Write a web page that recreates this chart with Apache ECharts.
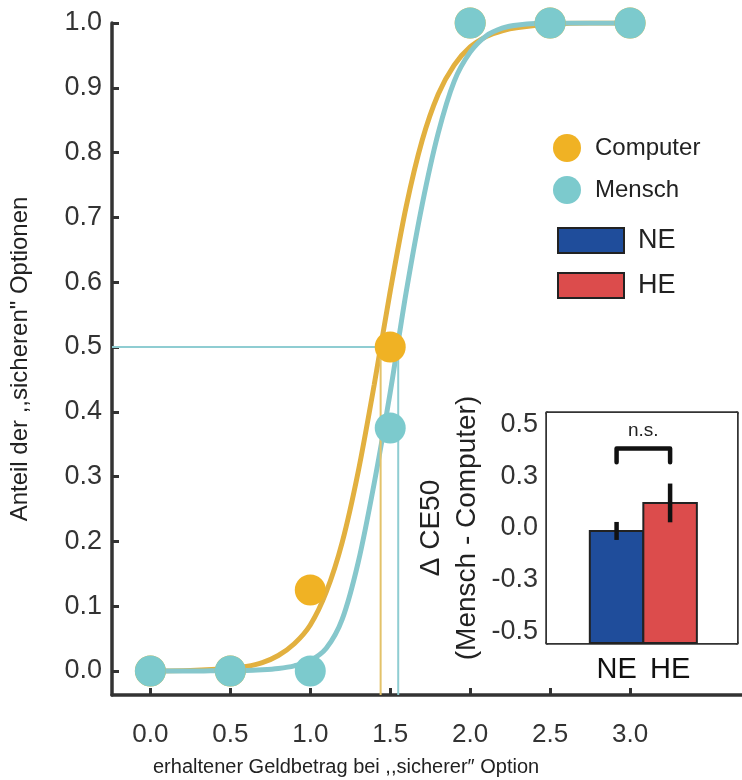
<!DOCTYPE html>
<html>
<head>
<meta charset="utf-8">
<script src="https://cdn.jsdelivr.net/npm/echarts@6/dist/echarts.min.js"></script>
<style>html,body{margin:0;padding:0;background:#fff}#c{width:742px;height:780px}</style>
</head>
<body>
<div id="c"></div>
<script>
// ---- data ----
const xTicks = [0, 0.5, 1, 1.5, 2, 2.5, 3];
const yTicks = [0, 0.1, 0.2, 0.3, 0.4, 0.5, 0.6, 0.7, 0.8, 0.9, 1.0];
const stimulus = [0, 0.5, 1, 1.5, 2, 2.5, 3];
const computerObs = [0, 0, 0.125, 0.5, 1, 1, 1];
const menschObs = [0, 0, 0, 0.375, 1, 1, 1];
const curveX = [0, 0.25, 0.5, 0.6, 0.7, 0.8, 0.9, 1.0, 1.1, 1.2, 1.3, 1.4, 1.5, 1.6, 1.7, 1.8, 1.9, 2.0, 2.1, 2.2, 2.3, 2.5, 2.75, 3.0];
const computerFit = [0, 0.001, 0.004, 0.007, 0.013, 0.024, 0.042, 0.071, 0.122, 0.199, 0.308, 0.442, 0.586, 0.717, 0.819, 0.89, 0.935, 0.963, 0.979, 0.988, 0.993, 0.998, 1, 1];
const menschFit = [0, 0, 0.001, 0.001, 0.002, 0.004, 0.008, 0.016, 0.035, 0.08, 0.168, 0.29, 0.43, 0.585, 0.72, 0.83, 0.91, 0.955, 0.98, 0.992, 0.997, 1, 1, 1];
const ce50Computer = 1.44;
const ce50Mensch = 1.55;
const groups = ['NE', 'HE'];
const deltaCE50 = [-0.017, 0.145];
const deltaErr = [0.052, 0.112];
const insetTickValues = [-0.6, -0.3, 0, 0.3, 0.6];
const insetTickLabels = ['-0.5', '-0.3', '0.0', '0.3', '0.5'];

// ---- styling constants ----
const FONT = 'Liberation Sans, Arial, sans-serif';
const ORANGE = '#f0b224';
const ORANGE_LINE = '#e2b03f';
const CYAN = '#7ccacd';
const CYAN_LINE = '#86c7cc';
const NE_COL = '#1f4d9b';
const HE_COL = '#dc4c4c';
const AX = '#333';
const X_MIN = -0.24, X_MAX = 3.7, Y_MIN = -0.037, Y_MAX = 1.0;
const IY_MIN = -0.665, IY_MAX = 0.665, IX_MIN = -1.3, IX_MAX = 2.25;

const zip = (a, b) => a.map((v, i) => [v, b[i]]);

const chart = echarts.init(document.getElementById('c'), null, {renderer: 'canvas'});

const option = {
  backgroundColor: '#fff',
  animation: false,
  textStyle: {fontFamily: FONT},
  grid: [
    {left: 111, top: 23, right: 0, bottom: 85, containLabel: false},
    {left: 547, top: 413, width: 190, height: 230, show: true, backgroundColor: '#fff', borderWidth: 0, z: 5}
  ],
  legend: [
    {
      orient: 'vertical', left: 553, top: 134, padding: 0, itemWidth: 28, itemHeight: 28, itemGap: 14,
      selectedMode: false,
      textStyle: {fontSize: 24, color: '#222', fontFamily: FONT, padding: [0, 0, 0, 9]},
      data: [
        {name: 'Computer', icon: 'circle', itemStyle: {color: ORANGE}},
        {name: 'Mensch', icon: 'circle', itemStyle: {color: CYAN}}
      ]
    },
    {
      orient: 'vertical', left: 557, top: 227, padding: 0, itemWidth: 66, itemHeight: 25, itemGap: 18,
      selectedMode: false,
      textStyle: {fontSize: 27, color: '#222', fontFamily: FONT, padding: [0, 0, 0, 9]},
      data: [
        {name: 'NE', icon: 'rect', itemStyle: {color: NE_COL, borderColor: '#222', borderWidth: 2}},
        {name: 'HE', icon: 'rect', itemStyle: {color: HE_COL, borderColor: '#222', borderWidth: 2}}
      ]
    }
  ],
  xAxis: [
    {
      gridIndex: 0, type: 'value', min: X_MIN, max: X_MAX,
      axisLine: {show: true, onZero: false, lineStyle: {color: AX, width: 3.5}},
      axisTick: {show: true, inside: true, length: 7, lineStyle: {color: AX, width: 3}, customValues: xTicks},
      axisLabel: {show: true, customValues: xTicks, margin: 27, fontSize: 26, color: AX, fontFamily: FONT,
        formatter: v => v.toFixed(1)},
      splitLine: {show: false}
    },
    {
      gridIndex: 1, type: 'value', min: IX_MIN, max: IX_MAX,
      axisLine: {show: true, onZero: false, lineStyle: {color: AX, width: 3.5}},
      axisTick: {show: false, customValues: [0, 1]},
      axisLabel: {show: true, customValues: [0, 1], margin: 12, fontSize: 29, color: '#111', fontFamily: FONT,
        formatter: v => groups[Math.round(v)] || ''},
      splitLine: {show: false}
    },
    {
      gridIndex: 1, type: 'value', position: 'top', min: IX_MIN, max: IX_MAX,
      axisLine: {show: true, onZero: false, lineStyle: {color: AX, width: 3.5}},
      axisTick: {show: true, inside: true, length: 6, lineStyle: {color: AX, width: 3}, customValues: [0, 1]},
      axisLabel: {show: false},
      splitLine: {show: false}
    }
  ],
  yAxis: [
    {
      gridIndex: 0, type: 'value', min: Y_MIN, max: Y_MAX,
      name: 'Anteil der ,,sicheren" Optionen', nameLocation: 'middle', nameGap: 80, nameRotate: 90,
      nameTextStyle: {fontSize: 24, color: '#222', fontFamily: FONT},
      axisLine: {show: true, onZero: false, lineStyle: {color: AX, width: 3.5}},
      axisTick: {show: true, inside: true, length: 7, lineStyle: {color: AX, width: 3}, customValues: yTicks},
      axisLabel: {show: true, customValues: yTicks, margin: 10, fontSize: 27, color: AX, fontFamily: FONT,
        formatter: v => v.toFixed(1)},
      splitLine: {show: false}
    },
    {
      gridIndex: 1, type: 'value', min: IY_MIN, max: IY_MAX,
      name: 'Δ CE50\n(Mensch - Computer)', nameLocation: 'middle', nameGap: 62, nameRotate: 90,
      nameTextStyle: {fontSize: 28, color: '#222', fontFamily: FONT, lineHeight: 36},
      axisLine: {show: true, onZero: false, lineStyle: {color: AX, width: 3.5}},
      axisTick: {show: true, inside: true, length: 5, lineStyle: {color: AX, width: 3}, customValues: insetTickValues},
      axisLabel: {show: true, customValues: insetTickValues, margin: 9, fontSize: 27, color: AX, fontFamily: FONT,
        formatter: v => insetTickLabels[insetTickValues.findIndex(t => Math.abs(t - v) < 1e-6)] || ''},
      splitLine: {show: false}
    },
    {
      gridIndex: 1, type: 'value', position: 'right', min: IY_MIN, max: IY_MAX,
      axisLine: {show: true, onZero: false, lineStyle: {color: AX, width: 3.5}},
      axisTick: {show: true, inside: true, length: 5, lineStyle: {color: AX, width: 3}, customValues: insetTickValues},
      axisLabel: {show: false},
      splitLine: {show: false}
    }
  ],
  graphic: [
    {
      type: 'text', left: 153, top: 757,
      style: {text: 'erhaltener Geldbetrag bei ,,sicherer″ Option', fontSize: 20, fill: '#222', fontFamily: FONT}
    }
  ],
  series: [
    {
      name: 'Computer fit', type: 'line', xAxisIndex: 0, yAxisIndex: 0,
      data: zip(curveX, computerFit), smooth: 0.3, showSymbol: false, symbol: 'none',
      lineStyle: {color: ORANGE_LINE, width: 5}, z: 2
    },
    {
      name: 'Mensch fit', type: 'line', xAxisIndex: 0, yAxisIndex: 0,
      data: zip(curveX, menschFit), smooth: 0.3, showSymbol: false, symbol: 'none',
      lineStyle: {color: CYAN_LINE, width: 5}, z: 3
    },
    {
      name: 'CE50 Computer', type: 'line', xAxisIndex: 0, yAxisIndex: 0,
      data: [[ce50Computer, Y_MIN], [ce50Computer, 0.5]], showSymbol: false, symbol: 'none',
      lineStyle: {color: '#e3c26a', width: 2}, z: 4
    },
    {
      name: 'CE50 Mensch', type: 'line', xAxisIndex: 0, yAxisIndex: 0,
      data: [[X_MIN, 0.5], [ce50Mensch, 0.5], [ce50Mensch, Y_MIN]], showSymbol: false, symbol: 'none',
      lineStyle: {color: '#8fcdd2', width: 2}, z: 4
    },
    {
      name: 'Computer', type: 'scatter', xAxisIndex: 0, yAxisIndex: 0,
      data: zip(stimulus, computerObs), symbolSize: 31,
      itemStyle: {color: ORANGE, opacity: 1}, z: 6
    },
    {
      name: 'Mensch', type: 'scatter', xAxisIndex: 0, yAxisIndex: 0,
      data: zip(stimulus, menschObs), symbolSize: 31,
      itemStyle: {color: CYAN, opacity: 1}, z: 7
    },
    // inset bars
    ...groups.map((g, gi) => ({
      name: g, type: 'custom', xAxisIndex: 1, yAxisIndex: 1, z: 10,
      itemStyle: {color: gi === 0 ? NE_COL : HE_COL},
      data: [[gi, deltaCE50[gi]]],
      renderItem: (params, api) => {
        const x = api.value(0), y = api.value(1);
        const top = api.coord([x, y]);
        const base = api.coord([x, IY_MIN]);
        const w = api.size([1, 0])[0];
        return {
          type: 'rect',
          shape: {x: top[0] - w / 2, y: top[1], width: w, height: base[1] - top[1]},
          style: {fill: api.visual('color'), stroke: '#222', lineWidth: 2}
        };
      }
    })),
    {
      name: 'error', type: 'custom', xAxisIndex: 1, yAxisIndex: 1, z: 11,
      data: groups.map((g, gi) => [gi, deltaCE50[gi] - deltaErr[gi], deltaCE50[gi] + deltaErr[gi]]),
      renderItem: (params, api) => {
        const lo = api.coord([api.value(0), api.value(1)]);
        const hi = api.coord([api.value(0), api.value(2)]);
        return {type: 'line', shape: {x1: lo[0], y1: lo[1], x2: hi[0], y2: hi[1]},
          style: {stroke: '#111', lineWidth: 4.5}};
      }
    },
    {
      name: 'bracket', type: 'custom', xAxisIndex: 1, yAxisIndex: 1, z: 11,
      data: [[0, 1, 0.46, 0.38]],
      renderItem: (params, api) => {
        const a = api.value(0), b = api.value(1), yb = api.value(2), yl = api.value(3);
        const p1 = api.coord([a, yl]), p2 = api.coord([a, yb]), p3 = api.coord([b, yb]), p4 = api.coord([b, yl]);
        const t = api.coord([(a + b) / 2, 0.56]);
        return {type: 'group', children: [
          {type: 'polyline', shape: {points: [p1, p2, p3, p4]},
            style: {stroke: '#111', lineWidth: 4.5, fill: null, lineJoin: 'round', lineCap: 'round'}},
          {type: 'text', x: t[0], y: t[1],
            style: {text: 'n.s.', fontSize: 19, fill: '#222', fontFamily: FONT, align: 'center', verticalAlign: 'middle'}}
        ]};
      }
    }
  ]
};
chart.setOption(option);
</script>
</body>
</html>
